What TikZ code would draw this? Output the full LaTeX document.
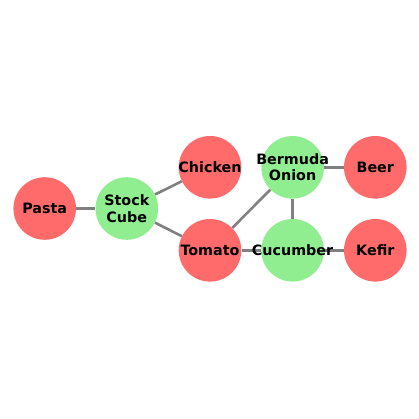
\documentclass[tikz,border=0pt]{standalone}
\usepackage{fontspec}
\setmainfont{DejaVu Sans}
\usetikzlibrary{backgrounds}
\definecolor{nodered}{HTML}{FF6B6B}
\definecolor{nodegreen}{HTML}{90EE90}
\definecolor{edgegray}{HTML}{808080}
\begin{document}
\begin{tikzpicture}[x=1pt,y=-1pt,
  vert/.style={circle,minimum size=62.6pt,inner sep=0pt},
  rednode/.style={vert,fill=nodered},
  greennode/.style={vert,fill=nodegreen},
  vlabel/.style={inner sep=0pt,align=center,font=\bfseries\fontsize{14.3}{16.5}\selectfont},
  edge/.style={draw=edgegray,line width=2.6pt}]
\begin{pgfonlayer}{background}
\fill[white] (0,0) rectangle (419,419);
\end{pgfonlayer}
\useasboundingbox (0,0) rectangle (419,419);
\node[rednode] (pasta) at (44.7,208.5) {};
\node[greennode] (stock) at (126.8,208.5) {};
\node[rednode] (chicken) at (210,167.3) {};
\node[rednode] (tomato) at (210,250.3) {};
\node[greennode] (onion) at (292.6,167.3) {};
\node[greennode] (cucumber) at (292.6,250.3) {};
\node[rednode] (beer) at (375.3,167.3) {};
\node[rednode] (kefir) at (375.3,250.3) {};
\node[vlabel] (pastat) at (pasta) {Pasta};
\node[vlabel] (stockt) at (stock) {Stock\\Cube};
\node[vlabel] (chickent) at (chicken) {Chicken};
\node[vlabel] (tomatot) at (tomato) {Tomato};
\node[vlabel] (oniont) at (onion) {Bermuda\\Onion};
\node[vlabel] (cucumbert) at (cucumber) {Cucumber};
\node[vlabel] (beert) at (beer) {Beer};
\node[vlabel] (kefirt) at (kefir) {Kefir};
\begin{pgfonlayer}{background}
\draw[edge] (pasta) -- (stock);
\draw[edge] (stock) -- (chicken);
\draw[edge] (stock) -- (tomato);
\draw[edge] (tomato) -- (cucumber);
\draw[edge] (tomato) -- (onion);
\draw[edge] (onion) -- (cucumber);
\draw[edge] (onion) -- (beer);
\draw[edge] (cucumber) -- (kefir);
\end{pgfonlayer}
\end{tikzpicture}
\end{document}
